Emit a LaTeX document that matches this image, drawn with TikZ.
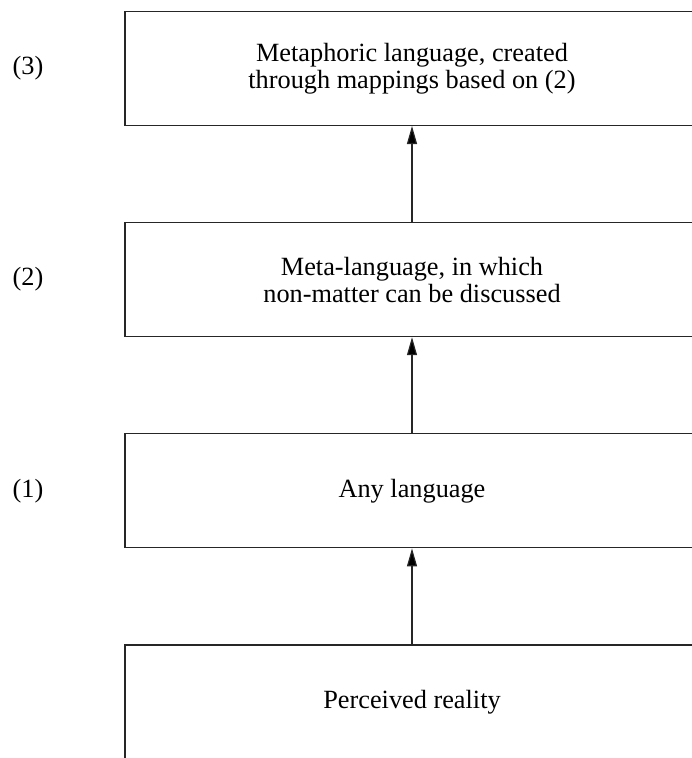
\documentclass[tikz,border=0pt]{standalone}
\usepackage{fontspec}
\setmainfont{Liberation Serif}
\usetikzlibrary{positioning,arrows.meta}

\begin{document}
\begin{tikzpicture}
   [x=1pt,y=1pt,
    level/.style={rectangle,draw=black!85,line width=1.2pt,
	 minimum width=574pt,minimum height=114pt,align=center,
	 font=\fontsize{26.3}{27}\selectfont},
    lbl/.style={font=\fontsize{26.3}{27}\selectfont},
    up/.style={draw=black!85,line width=1.2pt,-{Triangle[width=10pt,length=18pt,fill=black]}},
    node distance=96pt]
\clip (0,0) rectangle (692,-758);
\node [level] (real) at (412,-702) {Perceived reality};
\node [level,above=of real] (any) {Any language};
\node [level,above=of any] (meta) {Meta-language, in which\\non-matter can be discussed};
\node [level,above=of meta] (metaph) {Metaphoric language, created\\through mappings based on (2)};
\coordinate (lblx) at (28,0);
\node [lbl] (l1) at (lblx |- any) {(1)};
\node [lbl] (l2) at (lblx |- meta) {(2)};
\node [lbl] (l3) at (lblx |- metaph) {(3)};
\draw [up] (real) -- (any);
\draw [up] (any) -- (meta);
\draw [up] (meta) -- (metaph);
\end{tikzpicture}
\end{document}
